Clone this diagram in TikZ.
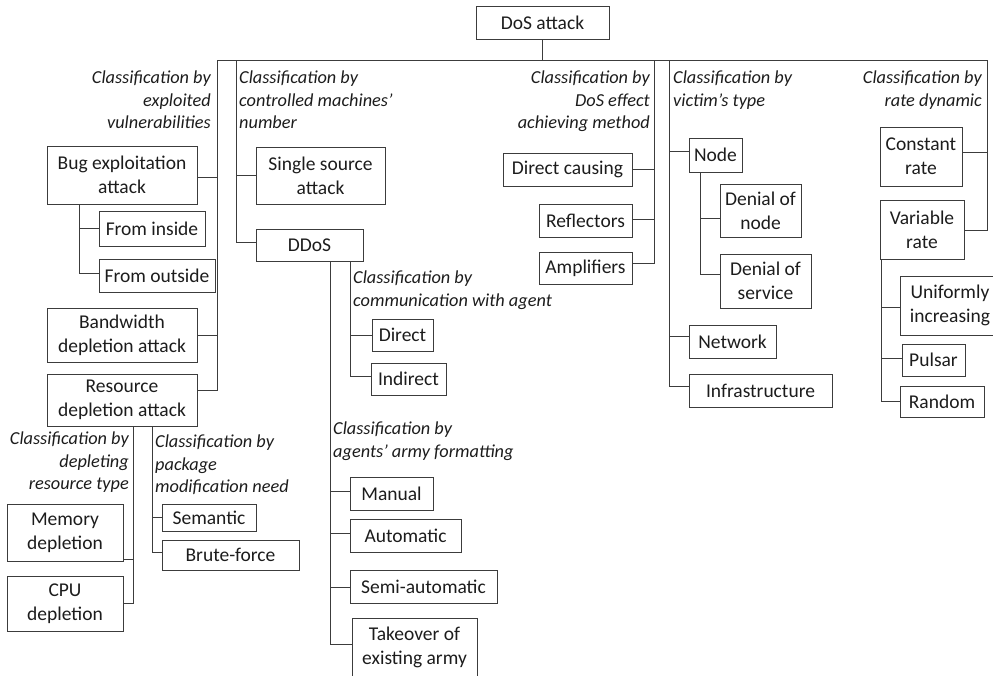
\documentclass[tikz,border=0pt]{standalone}
\usepackage{fontspec}
\setmainfont{Carlito}
\definecolor{linec}{RGB}{60,60,60}
\definecolor{txtc}{RGB}{28,28,28}
\newcommand\DrawBox[6]{%
  \pgfmathsetmacro\bxw{#4-#2}\pgfmathsetmacro\bxh{#5-#3}%
  \pgfmathsetmacro\bxcx{(#2+#4)/2}\pgfmathsetmacro\bxcy{(#3+#5)/2}%
  \node[box, minimum width=\bxw pt, minimum height=\bxh pt] (#1) at (\bxcx,\bxcy) {#6};}
\begin{document}
\begin{tikzpicture}[x=1pt,y=-1pt,
  box/.style={draw=linec, line width=1pt, inner sep=0pt, align=center,
    font=\fontsize{19.5}{24}\selectfont, text=txtc},
  lab/.style={inner sep=0pt, font=\fontsize{18.3}{22.5}\selectfont\itshape, text=txtc},
  conn/.style={draw=linec, line width=1pt}]
\useasboundingbox (0,0) rectangle (993,675);
\clip (0,0) rectangle (993,675);

% boxes
\DrawBox{dos}{476}{6}{609}{39}{DoS attack}
\DrawBox{bug}{47}{146}{197}{204}{Bug exploitation\\attack}
\DrawBox{fin}{99}{211}{205}{246}{From inside}
\DrawBox{fout}{99}{259}{215}{292}{From outside}
\DrawBox{band}{47}{308}{197}{362}{Bandwidth\\depletion attack}
\DrawBox{res}{47}{374}{197}{426}{Resource\\depletion attack}
\DrawBox{mem}{7}{504}{123}{561}{Memory\\depletion}
\DrawBox{cpu}{7}{576}{123}{631}{CPU\\depletion}
\DrawBox{sem}{162}{504}{256}{531}{Semantic}
\DrawBox{brute}{162}{540}{299}{570}{Brute-force}
\DrawBox{single}{256}{147}{385}{204}{Single source\\attack}
\DrawBox{ddos}{256}{229}{363}{261}{DDoS}
\DrawBox{direct}{372}{319}{433}{351}{Direct}
\DrawBox{indirect}{371}{363}{446}{395}{Indirect}
\DrawBox{manual}{350}{477}{433}{510}{Manual}
\DrawBox{auto}{350}{519}{461}{552}{Automatic}
\DrawBox{semi}{350}{570}{497}{603}{Semi-automatic}
\DrawBox{take}{352}{618}{477}{677}{Takeover of\\existing army}
\DrawBox{dcause}{503}{153}{632}{186}{Direct causing}
\DrawBox{refl}{539}{204}{632}{237}{Reflectors}
\DrawBox{ampl}{539}{252}{632}{284}{Amplifiers}
\DrawBox{vnode}{689}{138}{742}{172}{Node}
\DrawBox{dnode}{720}{184}{801}{237}{Denial of\\node}
\DrawBox{dserv}{720}{254}{811}{308}{Denial of\\service}
\DrawBox{net}{689}{325}{776}{358}{Network}
\DrawBox{infra}{689}{374}{832}{407}{Infrastructure}
\DrawBox{const}{880}{127}{962}{186}{Constant\\rate}
\DrawBox{var}{880}{200}{964}{259}{Variable\\rate}
\DrawBox{unif}{900}{276}{1000}{335}{Uniformly\\increasing}
\DrawBox{pulsar}{902}{344}{965}{376}{Pulsar}
\DrawBox{random}{900}{386}{984}{417}{Random}

% labels
\node[lab, anchor=north east, align=right] (l1) at (211,71) {Classification by\\exploited\\vulnerabilities};
\node[lab, anchor=north west, align=left] (l2) at (239,71) {Classification by\\controlled machines’\\number};
\node[lab, anchor=north east, align=right] (l3) at (650,71) {Classification by\\DoS effect\\achieving method};
\node[lab, anchor=north west, align=left] (l4) at (673,71) {Classification by\\victim’s type};
\node[lab, anchor=north east, align=right] (l5) at (982,71) {Classification by\\rate dynamic};
\node[lab, anchor=north east, align=right] (l6) at (129,432) {Classification by\\depleting\\resource type};
\node[lab, anchor=north west, align=left] (l7) at (155,435) {Classification by\\package\\modification need};
\node[lab, anchor=north west, align=left] (l8) at (353,271) {Classification by\\communication with agent};
\node[lab, anchor=north west, align=left] (l9) at (333,422) {Classification by\\agents’ army formatting};

% junction coordinates
\coordinate (busL) at (217,60);
\coordinate (busR) at (987,60);
\coordinate (b2) at (236,60);
\coordinate (b3) at (654,60);
\coordinate (b4) at (669,60);
\coordinate (bs) at (79,204);
\coordinate (rs1) at (133,426);
\coordinate (rs2) at (152,426);
\coordinate (d1) at (330,261);
\coordinate (d2) at (350,261);
\coordinate (ns) at (700,172);
\coordinate (vs) at (881,259);

% connectors
\draw[conn] (dos.south) -- (dos.south |- busL);
\draw[conn] (busL) -- (busR);
\draw[conn] (busL) |- ([yshift=-2pt]bug.east);
\draw[conn] (busL) |- (band.east);
\draw[conn] (busL) |- ([yshift=10pt]res.east);
\draw[conn] (b2) |- (single.west);
\draw[conn] (b2) |- ([yshift=3pt]ddos.west);
\draw[conn] (b3) |- (dcause.east);
\draw[conn] (b3) |- ([yshift=1pt]refl.east);
\draw[conn] (b3) |- ([yshift=5pt]ampl.east);
\draw[conn] (b4) |- ([yshift=4pt]vnode.west);
\draw[conn] (b4) |- ([yshift=5pt]net.west);
\draw[conn] (b4) |- ([yshift=4pt]infra.west);
\draw[conn] (busR) |- ([yshift=4pt]const.east);
\draw[conn] (busR) |- ([yshift=-1pt]var.east);
\draw[conn] (bs) |- (fin.west);
\draw[conn] (bs) |- ([yshift=2pt]fout.west);
\draw[conn] (rs1) |- ([yshift=2pt]mem.south east);
\draw[conn] (rs1) |- (cpu.east);
\draw[conn] (rs2) |- (sem.west);
\draw[conn] (rs2) |- ([yshift=3pt]brute.west);
\draw[conn] (d2) |- (direct.west);
\draw[conn] (d2) |- ([yshift=3pt]indirect.west);
\draw[conn] (d1) |- ([yshift=2pt]manual.west);
\draw[conn] (d1) |- ([yshift=2pt]auto.west);
\draw[conn] (d1) |- ([yshift=-1pt]semi.west);
\draw[conn] (d1) |- ([yshift=3pt]take.west);
\draw[conn] (ns) |- ([yshift=-8pt]dnode.west);
\draw[conn] (ns) |- ([yshift=7pt]dserv.west);
\draw[conn] (vs) |- ([yshift=-2pt]unif.west);
\draw[conn] (vs) |- ([yshift=2pt]pulsar.west);
\draw[conn] (vs) |- (random.west);
\end{tikzpicture}
\end{document}
